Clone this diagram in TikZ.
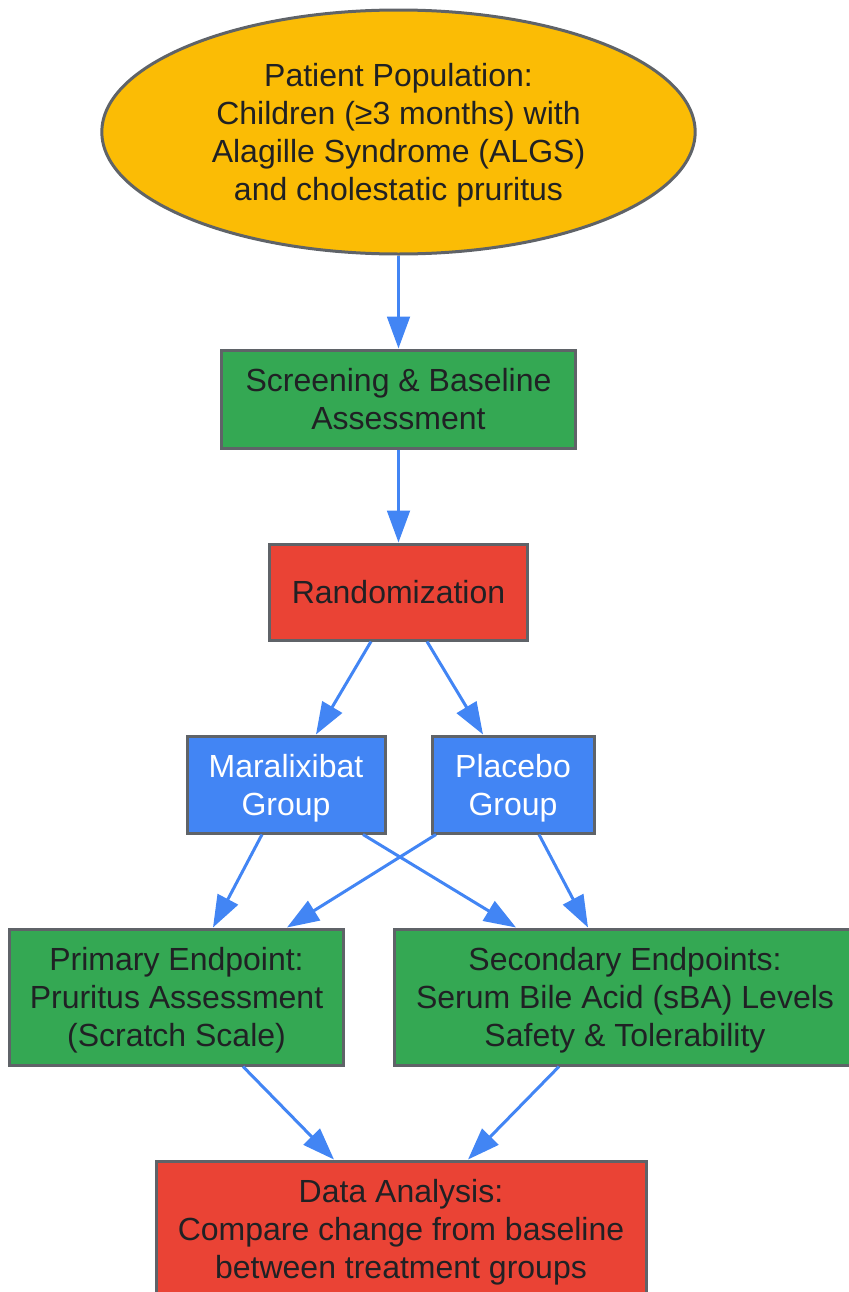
\documentclass[tikz,border=0pt]{standalone}
\usepackage{fontspec}
\setmainfont{Liberation Sans}
\usetikzlibrary{shapes.geometric,arrows.meta,calc}
\definecolor{gyellow}{HTML}{FBBC05}
\definecolor{ggreen}{HTML}{34A853}
\definecolor{gred}{HTML}{EA4335}
\definecolor{gblue}{HTML}{4285F4}
\definecolor{gborder}{HTML}{5F6368}
\definecolor{gtext}{HTML}{202124}

\begin{document}
\begin{tikzpicture}[x=0.75pt, y=-0.75pt,
  box/.style={rectangle, draw=gborder, line width=2.25pt, align=center, text=gtext,
    font=\fontsize{24}{28.5}\selectfont, inner sep=0pt, text depth=0pt},
  flow/.style={draw=gblue, line width=2.25pt, -{Triangle[length=24pt,width=17pt]}}
]
\clip (0,0) rectangle (849,1292);
\useasboundingbox (0,0) rectangle (849,1292);

% Population
\node[box, ellipse, fill=gyellow, minimum width=445pt, minimum height=183pt] (pop) at (398.5,132) {%
Patient Population:\\ Children (≥3 months) with\\ Alagille Syndrome (ALGS)\\ and cholestatic pruritus%
};

% Screening and randomization
\node[box, fill=ggreen, minimum width=265pt, minimum height=73.5pt] (scr) at (398.5,399) {%
Screening \& Baseline\\ Assessment%
};
\node[box, fill=gred, minimum width=194pt, minimum height=72pt] (rand) at (398.5,592) {%
Randomization%
};

% Treatment arms
\node[box, fill=gblue, text=white, minimum width=148.5pt, minimum height=72.75pt] (mar) at (286,784.5) {%
Maralixibat\\ Group%
};
\node[box, fill=gblue, text=white, minimum width=121.5pt, minimum height=72.75pt] (plac) at (513,784.5) {%
Placebo\\ Group%
};

% Endpoints
\node[box, fill=ggreen, minimum width=251pt, minimum height=102pt] (prim) at (176.5,997) {%
Primary Endpoint:\\ Pruritus Assessment\\ (Scratch Scale)%
};
\node[box, fill=ggreen, minimum width=346.5pt, minimum height=102pt] (sec) at (625,997) {%
Secondary Endpoints:\\ Serum Bile Acid (sBA) Levels\\ Safety \& Tolerability%
};

% Analysis
\node[box, fill=gred, minimum width=367.5pt, minimum height=102pt] (data) at (401,1229) {%
Data Analysis:\\ Compare change from baseline\\ between treatment groups%
};

% Arrows
\draw[flow] (pop.south) -- (scr.north);
\draw[flow] (scr.south) -- (rand.north);

\draw[flow] ($(rand.south)+(-27.5,0)$) -- ($(mar.north)+(30,0)$);
\draw[flow] ($(rand.south)+(28.5,0)$) -- ($(plac.north)+(-30,0)$);

\draw[flow] ($(mar.south)+(-24,0)$) -- ($(prim.north)+(36.5,0)$);
\draw[flow] ($(mar.south)+(77,0)$) -- ($(sec.north)+(-109,0)$);
\draw[flow] ($(plac.south)+(-77,0)$) -- ($(prim.north)+(110.5,0)$);
\draw[flow] ($(plac.south)+(26,0)$) -- ($(sec.north)+(-37,0)$);

\draw[flow] ($(prim.south)+(66.5,0)$) -- ($(data.north)+(-67,0)$);
\draw[flow] ($(sec.south)+(-66,0)$) -- ($(data.north)+(67,0)$);

\end{tikzpicture}
\end{document}
